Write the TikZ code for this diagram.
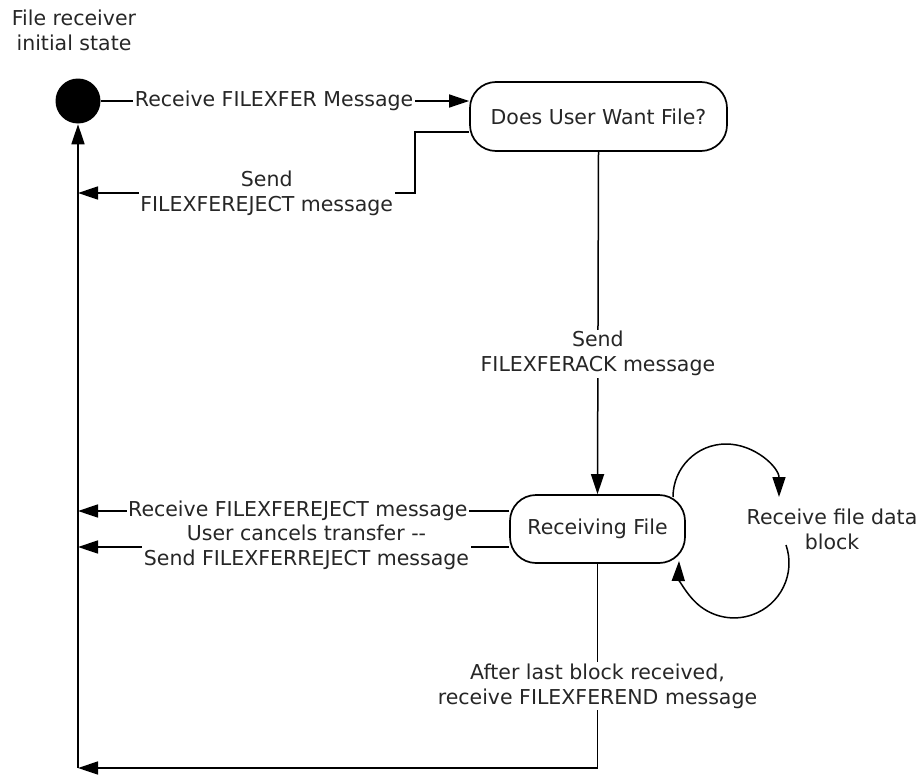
\documentclass[tikz,border=0pt]{standalone}
\usepackage{fontspec}
\setmainfont{DejaVu Sans}
\usetikzlibrary{arrows.meta}
\begin{document}
\begin{tikzpicture}[x=1pt,y=1pt,line width=1.5pt,
  every node/.style={font=\fontsize{20.5}{25}\selectfont, text=black!85},
  state/.style={draw, line width=1.7pt, rounded corners=26pt, fill=white, inner sep=0pt},
  arr/.style={-{Triangle[length=20pt,width=13pt]}},
  lbl/.style={fill=white, inner sep=1.5pt, align=center}]
\useasboundingbox (0,0) rectangle (923,-776);
\node[align=center] (title) at (74,-30) {File receiver\\initial state};
\node[circle, fill=black, minimum size=45pt, inner sep=0pt] (init) at (78,-101) {};
\node[state, minimum width=257pt, minimum height=69pt] (ask) at (598.5,-116.5) {Does User Want File?};
\node[state, minimum width=175pt, minimum height=68pt] (recv) at (597.5,-529) {Receiving File};
\coordinate (bl) at (78,-768);
\coordinate (rj) at (415,-132);
\coordinate (la) at (673,-497);
\coordinate (lb) at (786,-545);
% initial -> ask
\draw[arr] (init.east) -- node[lbl, pos=0.47] {Receive FILEXFER Message} (init.east -| ask.west);
% ask -> init line (reject)
\draw[arr] (ask.west |- rj) -- (rj) |- node[lbl, pos=0.72] {Send\\FILEXFEREJECT message} (init |- 0,-193);
% main return line
\draw[arr] (bl) -- (init.south);
% ask -> recv
\draw[arr] (ask.south) -- node[lbl, pos=0.59] {Send\\FILEXFERACK message} (recv.north);
% recv -> left
\draw[arr] (recv.west |- 0,-511) -- node[lbl, pos=0.49] {Receive FILEXFEREJECT message} (init |- 0,-511);
\draw[arr] (recv.west |- 0,-547) -- node[lbl, pos=0.47] {User cancels transfer {-}{-}\\Send FILEXFERREJECT message} (init |- 0,-547);
% recv -> bottom
\draw[arr] (recv.south) |- node[lbl, pos=0.3] {After last block received,\\receive FILEXFEREND message} (bl);
% self loop
\node[align=center] (loopl) at (832,-529) {Receive file data\\block};
\draw[arr] (la) arc[start angle=180, end angle=0, radius=53];
\draw[arr] (lb) arc[start angle=19, end angle=-182, radius=55];
\end{tikzpicture}
\end{document}
